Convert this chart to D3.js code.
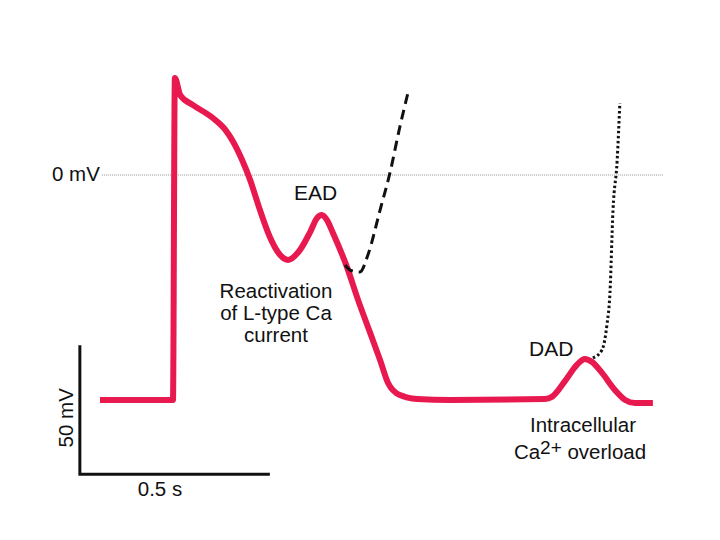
<!DOCTYPE html>
<html>
<head>
<meta charset="utf-8">
<script src="https://cdn.jsdelivr.net/npm/d3@7"></script>
<style>
  body { margin: 0; background: #fff; }
  text { font-family: "Liberation Sans", Arial, sans-serif; fill: #111; }
</style>
</head>
<body>
<div class="canva"></div>
<script>
// action potential trace: time (ms), membrane voltage (mV)
const apTime = [0, 192, 197, 211, 245, 297, 330, 350, 374, 395, 421, 447, 474, 495, 526, 553, 571, 584, 597, 613, 650, 679, 711, 737, 758, 789, 834, 921, 1171, 1189, 1224, 1255, 1276, 1295, 1321, 1355, 1382, 1408, 1455];
const apVolt = [-87.2, -87.2, 37.6, 31, 27.1, 22.1, 17.5, 13, 5.8, -1.9, -13.6, -24, -31, -32.9, -29.1, -22.1, -16.7, -15.5, -17.4, -22.5, -35.7, -48.4, -61.2, -71.7, -80.6, -85.3, -86.8, -87.2, -86.8, -86, -79.8, -73.6, -71.3, -72.5, -76.7, -83.3, -87.2, -88.4, -88.4];

// triggered upstroke from the EAD (dashed)
const eadTime = [645, 660, 684, 705, 737, 763, 789, 811];
const eadVolt = [-34.9, -37, -37.6, -31, -13.6, 0.8, 18.6, 32.2];

// triggered upstroke from the DAD (dotted)
const dadTime = [1297, 1321, 1334, 1342, 1350, 1361, 1368];
const dadVolt = [-70.9, -67.8, -58.1, -45.7, -13.6, 5.8, 27.9];

// zero line and scale bar
const zeroSpan = [5, 1482];
const barOrigin = [-53, -116];   // ms, mV
const barSize = [500, 50];       // 0.5 s, 50 mV

const canvas = d3.select(".canva");
const svg = canvas.append("svg")
                  .attr("width", 720)
                  .attr("height", 540);

const x = d3.scaleLinear().domain([0, 1500]).range([100, 670]);
const y = d3.scaleLinear().domain([0, 50]).range([175, 46]);

const line = d3.line()
               .x(d => x(d[0]))
               .y(d => y(d[1]))
               .curve(d3.curveMonotoneX);

const zip = (t, v) => t.map((d, i) => [d, v[i]]);

// 0 mV reference
svg.append("line")
   .attr("x1", x(zeroSpan[0])).attr("x2", x(zeroSpan[1]))
   .attr("y1", y(0)).attr("y2", y(0))
   .attr("stroke", "#777")
   .attr("stroke-width", 0.8)
   .attr("stroke-dasharray", "1,1");

svg.append("text")
   .attr("x", 52).attr("y", y(0) + 6)
   .attr("font-size", 20.5)
   .text("0 mV");

// main trace
svg.append("path")
   .datum(zip(apTime, apVolt))
   .attr("d", line)
   .attr("fill", "none")
   .attr("stroke", "#e8194f")
   .attr("stroke-width", 6)
   .attr("stroke-linejoin", "round")
   .attr("stroke-linecap", "butt");

// EAD dashed
svg.append("path")
   .datum(zip(eadTime, eadVolt))
   .attr("d", line)
   .attr("fill", "none")
   .attr("stroke", "#111")
   .attr("stroke-width", 3)
   .attr("stroke-dasharray", "10,6");

// DAD dotted
svg.append("path")
   .datum(zip(dadTime, dadVolt))
   .attr("d", line)
   .attr("fill", "none")
   .attr("stroke", "#111")
   .attr("stroke-width", 3)
   .attr("stroke-dasharray", "2.5,2.5");

// labels
svg.append("text").attr("x", 294).attr("y", 200).attr("font-size", 21).text("EAD");
svg.append("text").attr("x", 529).attr("y", 356).attr("font-size", 21).text("DAD");

const reLines = ["Reactivation", "of L-type Ca", "current"];
svg.selectAll(".re").data(reLines).enter().append("text")
   .attr("x", 276)
   .attr("y", (d, i) => 298 + i * 22)
   .attr("text-anchor", "middle")
   .attr("font-size", 20.5)
   .text(d => d);

svg.append("text")
   .attr("x", 583).attr("y", 432)
   .attr("text-anchor", "middle")
   .attr("font-size", 20.5)
   .text("Intracellular");

const ca = svg.append("text")
   .attr("x", 580).attr("y", 459)
   .attr("text-anchor", "middle")
   .attr("font-size", 20.5);
ca.append("tspan").text("Ca");
ca.append("tspan").attr("dy", -5).attr("font-size", 19).text("2+");
ca.append("tspan").attr("dy", 5).text(" overload");

// scale bar
const bar = [
  [barOrigin[0], barOrigin[1] + barSize[1]],
  [barOrigin[0], barOrigin[1]],
  [barOrigin[0] + barSize[0], barOrigin[1]]
];
svg.append("path")
   .datum(bar)
   .attr("d", d3.line().x(d => x(d[0])).y(d => y(d[1])))
   .attr("fill", "none")
   .attr("stroke", "#111")
   .attr("stroke-width", 3);

svg.append("text")
   .attr("x", 160).attr("y", y(barOrigin[1]) + 22)
   .attr("text-anchor", "middle")
   .attr("font-size", 20.5)
   .text("0.5 s");

svg.append("text")
   .attr("transform", `translate(73,${(y(barOrigin[1]) + y(barOrigin[1] + barSize[1])) / 2 + 8}) rotate(-90)`)
   .attr("text-anchor", "middle")
   .attr("font-size", 20.5)
   .text("50 mV");
</script>
</body>
</html>
